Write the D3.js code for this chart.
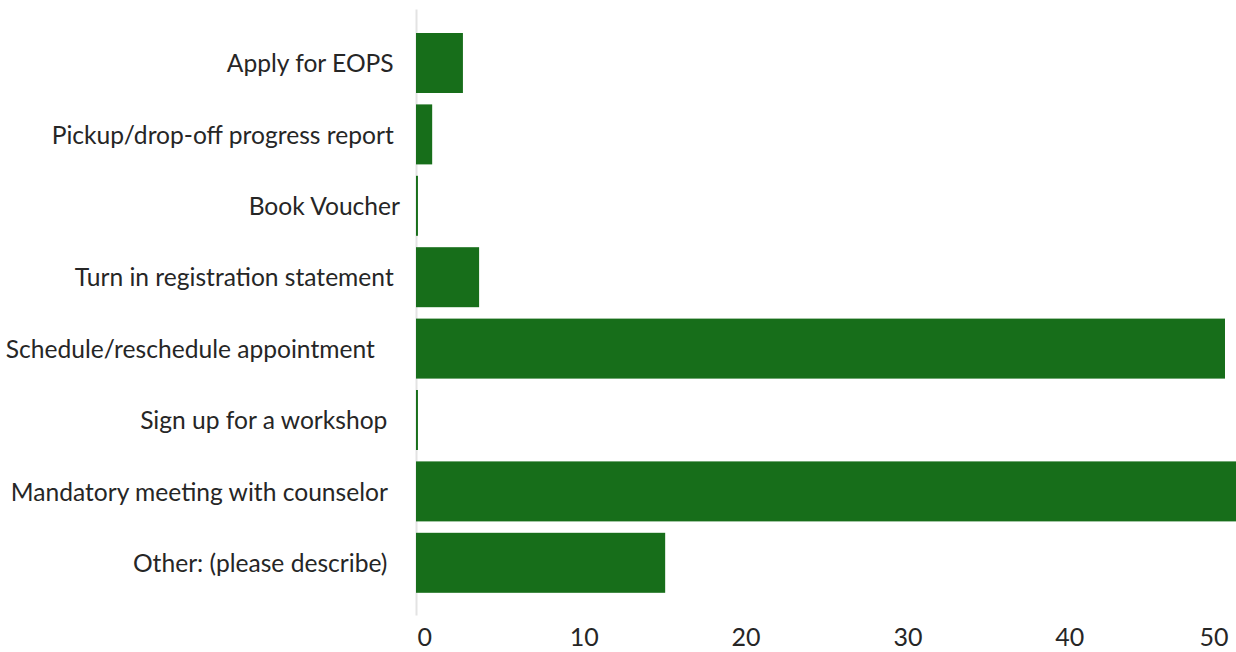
<!DOCTYPE html>
<html>
<head>
<meta charset="utf-8">
<script src="https://cdn.jsdelivr.net/npm/d3@7"></script>
<style>
  html, body { margin: 0; padding: 0; background: #fff; }
  svg { display: block; }
  text { font-family: Lato, "Open Sans", sans-serif; fill: #262626; }
</style>
</head>
<body>
<svg id="chart" width="1236" height="652"></svg>
<script>
// Data
const categories = [
  "Apply for EOPS ",
  "Pickup/drop-off progress report ",
  "Book Voucher",
  "Turn in registration statement ",
  "Schedule/reschedule appointment    ",
  "Sign up for a workshop  ",
  "Mandatory meeting with counselor  ",
  "Other: (please describe)  "
];
const values = [2.9, 1.0, 0.12, 3.9, 50.0, 0.12, 53.5, 15.4];
const tickValues = [0, 10, 20, 30, 40, 50];

const W = 1236, H = 652;
const svg = d3.select("#chart");

const x = d3.scaleLinear().domain([0, 50]).range([416, 1225]);
const step = 71.4;
const y = d3.scaleBand()
  .domain(categories)
  .range([27.3, 27.3 + categories.length * step])
  .paddingInner(11.4 / step)
  .paddingOuter(11.4 / (2 * step));

// vertical axis line
svg.append("line")
  .attr("x1", 416.5).attr("x2", 416.5)
  .attr("y1", 9.5).attr("y2", 615.5)
  .attr("stroke", "#e3e3e3")
  .attr("stroke-width", 2);

// bars
svg.append("g").selectAll("rect")
  .data(values)
  .join("rect")
  .attr("x", x(0))
  .attr("y", (d, i) => y(categories[i]))
  .attr("width", d => Math.max(0, x(d) - x(0)))
  .attr("height", y.bandwidth())
  .attr("fill", "#176e1a");

// category labels
const yAxis = d3.axisLeft(y).tickSize(0).tickPadding(0);
const gy = svg.append("g").attr("transform", "translate(400,0)").call(yAxis);
gy.select(".domain").remove();
gy.selectAll("text")
  .attr("x", 0)
  .attr("dy", "0.37em")
  .style("white-space", "pre")
  .attr("text-anchor", "end")
  .style("font-size", "24.6px")
  .style("font-family", "Lato, sans-serif")
  .attr("fill", "#262626");

// x axis labels
const xAxis = d3.axisBottom(x).tickValues(tickValues).tickSize(0).tickFormat(d3.format("d"));
const gx = svg.append("g").attr("transform", "translate(0,615)").call(xAxis);
gx.select(".domain").remove();
gx.selectAll("text")
  .attr("y", 31)
  .attr("dy", 0)
  .style("font-size", "25px")
  .style("font-family", "Lato, sans-serif")
  .attr("fill", "#262626")
  .each(function(d, i, nodes) {
    const t = d3.select(this);
    if (i === 0) { t.attr("text-anchor", "start").attr("x", 1); }
    else if (i === nodes.length - 1) { t.attr("text-anchor", "end").attr("x", 3); }
    else { t.attr("text-anchor", "middle").attr("x", 6); }
  });
</script>
</body>
</html>
